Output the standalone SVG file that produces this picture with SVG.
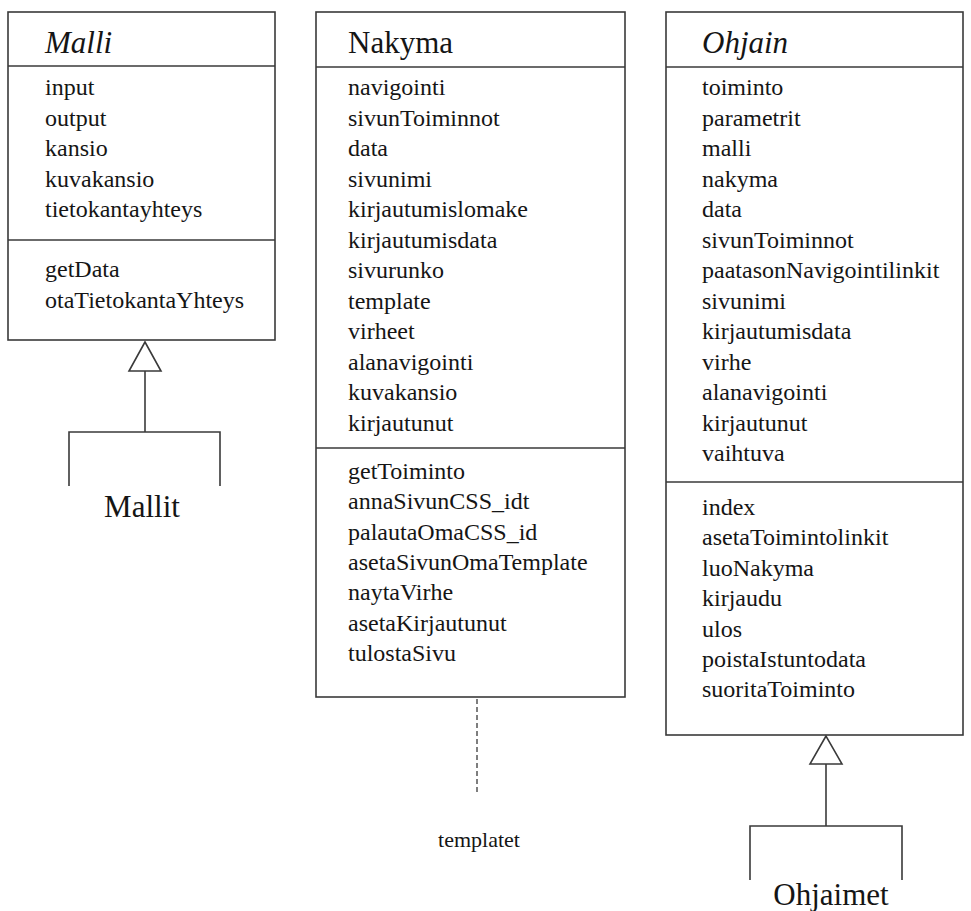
<svg xmlns="http://www.w3.org/2000/svg" width="971" height="911" viewBox="0 0 971 911">
  <style>
    .box { fill: #ffffff; stroke: #3a3a3a; stroke-width: 1.6; }
    .sep { stroke: #3a3a3a; stroke-width: 1.6; fill: none; }
    .title { font-family: "Liberation Serif", "Times New Roman", serif; font-size: 31px; fill: #151515; }
    .it { font-style: italic; }
    .item { font-family: "Liberation Serif", "Times New Roman", serif; font-size: 24px; fill: #151515; }
    .pkg { font-family: "Liberation Serif", "Times New Roman", serif; font-size: 31px; fill: #151515; text-anchor: middle; }
    .note { font-family: "Liberation Serif", "Times New Roman", serif; font-size: 22px; fill: #151515; text-anchor: middle; }
    .link { stroke: #3a3a3a; stroke-width: 1.6; fill: none; }
    .dash { stroke: #3a3a3a; stroke-width: 1.3; fill: none; stroke-dasharray: 5 3; }
    .tri { fill: #ffffff; stroke: #3a3a3a; stroke-width: 1.6; }
  </style>

  <!-- Class: Malli (abstract) -->
  <g id="malli">
    <rect class="box" x="8" y="12" width="267" height="328"/>
    <line class="sep" x1="8" y1="66" x2="275" y2="66"/>
    <line class="sep" x1="8" y1="240" x2="275" y2="240"/>
    <text class="title it" x="45" y="53">Malli</text>
    <text class="item" x="45" y="95">input</text>
    <text class="item" x="45" y="125.5">output</text>
    <text class="item" x="45" y="156">kansio</text>
    <text class="item" x="45" y="186.5">kuvakansio</text>
    <text class="item" x="45" y="217">tietokantayhteys</text>
    <text class="item" x="45" y="277">getData</text>
    <text class="item" x="45" y="307.5">otaTietokantaYhteys</text>
  </g>

  <!-- Class: Nakyma -->
  <g id="nakyma">
    <rect class="box" x="316" y="12" width="309" height="685"/>
    <line class="sep" x1="316" y1="67" x2="625" y2="67"/>
    <line class="sep" x1="316" y1="448" x2="625" y2="448"/>
    <text class="title" x="348" y="53">Nakyma</text>
    <text class="item" x="348" y="95">navigointi</text>
    <text class="item" x="348" y="125.5">sivunToiminnot</text>
    <text class="item" x="348" y="156">data</text>
    <text class="item" x="348" y="186.5">sivunimi</text>
    <text class="item" x="348" y="217">kirjautumislomake</text>
    <text class="item" x="348" y="247.5">kirjautumisdata</text>
    <text class="item" x="348" y="278">sivurunko</text>
    <text class="item" x="348" y="308.5">template</text>
    <text class="item" x="348" y="339">virheet</text>
    <text class="item" x="348" y="369.5">alanavigointi</text>
    <text class="item" x="348" y="400">kuvakansio</text>
    <text class="item" x="348" y="430.5">kirjautunut</text>
    <text class="item" x="348" y="479">getToiminto</text>
    <text class="item" x="348" y="509.3">annaSivunCSS_idt</text>
    <text class="item" x="348" y="539.6">palautaOmaCSS_id</text>
    <text class="item" x="348" y="569.9">asetaSivunOmaTemplate</text>
    <text class="item" x="348" y="600.2">naytaVirhe</text>
    <text class="item" x="348" y="630.5">asetaKirjautunut</text>
    <text class="item" x="348" y="660.8">tulostaSivu</text>
  </g>

  <!-- Class: Ohjain (abstract) -->
  <g id="ohjain">
    <rect class="box" x="666" y="12" width="297" height="723"/>
    <line class="sep" x1="666" y1="67" x2="963" y2="67"/>
    <line class="sep" x1="666" y1="482" x2="963" y2="482"/>
    <text class="title it" x="702" y="53">Ohjain</text>
    <text class="item" x="702" y="95">toiminto</text>
    <text class="item" x="702" y="125.5">parametrit</text>
    <text class="item" x="702" y="156">malli</text>
    <text class="item" x="702" y="186.5">nakyma</text>
    <text class="item" x="702" y="217">data</text>
    <text class="item" x="702" y="247.5">sivunToiminnot</text>
    <text class="item" x="702" y="278">paatasonNavigointilinkit</text>
    <text class="item" x="702" y="308.5">sivunimi</text>
    <text class="item" x="702" y="339">kirjautumisdata</text>
    <text class="item" x="702" y="369.5">virhe</text>
    <text class="item" x="702" y="400">alanavigointi</text>
    <text class="item" x="702" y="430.5">kirjautunut</text>
    <text class="item" x="702" y="461">vaihtuva</text>
    <text class="item" x="702" y="515">index</text>
    <text class="item" x="702" y="545.4">asetaToimintolinkit</text>
    <text class="item" x="702" y="575.8">luoNakyma</text>
    <text class="item" x="702" y="606.2">kirjaudu</text>
    <text class="item" x="702" y="636.6">ulos</text>
    <text class="item" x="702" y="667">poistaIstuntodata</text>
    <text class="item" x="702" y="697.4">suoritaToiminto</text>
  </g>

  <!-- Package bracket: Mallit -->
  <g id="mallit">
    <path class="link" d="M69 486 V432 H220 V486"/>
    <text class="pkg" x="142" y="517">Mallit</text>
  </g>

  <!-- Package bracket: Ohjaimet -->
  <g id="ohjaimet">
    <path class="link" d="M750 880 V826 H902 V880"/>
    <text class="pkg" x="831" y="905">Ohjaimet</text>
  </g>

  <!-- Template files label -->
  <g id="templatet">
    <text class="note" x="479" y="847">templatet</text>
  </g>

  <!-- Connectors -->
  <g id="connectors">
    <!-- Mallit generalises Malli -->
    <line class="link" x1="145" y1="432" x2="145" y2="371"/>
    <polygon class="tri" points="145,342 129,371 161,371"/>
    <!-- Ohjaimet generalises Ohjain -->
    <line class="link" x1="826" y1="826" x2="826" y2="764"/>
    <polygon class="tri" points="826,736 810,764 842,764"/>
    <!-- Nakyma uses templates -->
    <line class="dash" x1="477" y1="699" x2="477" y2="792"/>
  </g>
</svg>
